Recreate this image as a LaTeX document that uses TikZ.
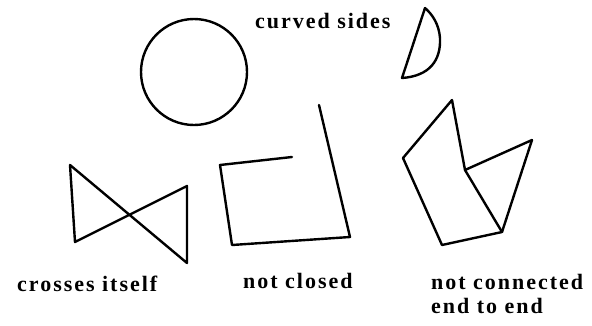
\documentclass[tikz,border=0pt]{standalone}
\usepackage{fontspec}
\setmainfont{Liberation Serif}
\usepackage{tikz}
\usetikzlibrary{positioning}

\begin{document}
\begin{tikzpicture}[x=1pt,y=-1pt,
    shape line/.style={black,line width=2.4pt,line join=round,line cap=round},
    label text/.style={font=\fontsize{22}{24}\selectfont\bfseries\addfontfeatures{LetterSpace=9},inner sep=0pt,align=left}]
        \useasboundingbox (0,0) rectangle (592,325);

        % circle
        \draw[shape line] (194,72) circle (53);

        % half circle
        \draw[shape line]
        (425,8) -- (402,78)
        .. controls (430,76) and (441,60) .. (440,38)
        .. controls (439,24) and (432,14) .. (425,8);

        % bow tie
        \draw[shape line]
        (70,165) -- (187,263) -- (187,186) -- (75,242) -- cycle;

        % open box
        \draw[shape line]
        (292,157) -- (220,165) -- (232,245) -- (350,237) -- (319,105);

        % folded shape
        \draw[shape line]
        (452,100) -- (465,170) -- (502,232) -- (442,245) -- (403,158) -- cycle;
        \draw[shape line]
        (465,170) -- (532,140) -- (502,232);

        % labels
        \node[label text,anchor=west] (curved) at (255,21) {curved sides};
        \node[label text,anchor=west] (crosses) at (17,284) {crosses itself};
        \node[label text,anchor=west] (open) at (243,281) {not closed};
        \node[label text,anchor=north west] (apart) at (431,274) {not connected\\end to end};
    \end{tikzpicture}
\end{document}
